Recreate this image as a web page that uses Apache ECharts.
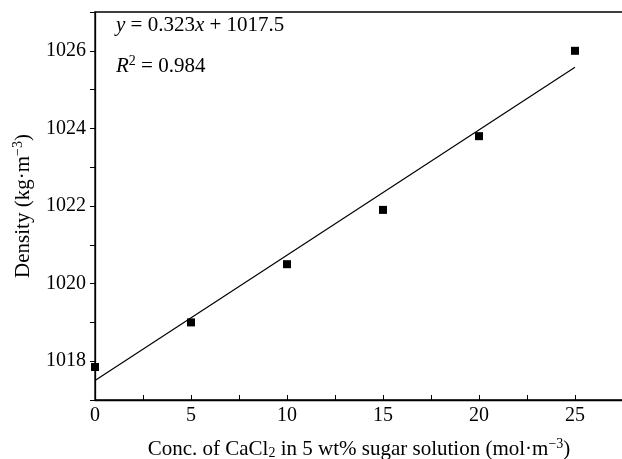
<!DOCTYPE html>
<html>
<head>
<meta charset="utf-8">
<script src="https://cdn.jsdelivr.net/npm/echarts@6/dist/echarts.min.js"></script>
<style>
html,body{margin:0;padding:0;background:#fff;}
#chart{width:622px;height:459px;}
</style>
</head>
<body>
<div id="chart"></div>
<script>
// Data
var concentrations = [0, 5, 10, 15, 20, 25];
var densities = [1017.85, 1019.0, 1020.5, 1021.9, 1023.8, 1026.0];
var fitSlope = 0.323;
var fitIntercept = 1017.5;
var fitRange = [0, 25];
var xTickLabels = [0, 5, 10, 15, 20, 25];
var yTickLabels = [1018, 1020, 1022, 1024, 1026];

var FONT = 'Liberation Serif';

var scatterData = concentrations.map(function (c, i) { return [c, densities[i]]; });
var fitData = fitRange.map(function (x) { return [x, +(fitSlope * x + fitIntercept).toFixed(4)]; });

var chart = echarts.init(document.getElementById('chart'), null, {renderer: 'canvas'});
chart.setOption({
  animation: false,
  backgroundColor: '#fff',
  grid: {left: 95, top: 12, width: 528, bottom: 59, containLabel: false, outerBoundsMode: 'none',
         show: true, borderColor: '#000', borderWidth: 1.3, backgroundColor: 'transparent'},
  xAxis: {
    type: 'value', min: 0, max: 27.5, interval: 2.5,
    axisLine: {lineStyle: {color: '#000', width: 1.3}},
    axisTick: {inside: true, length: 5, lineStyle: {color: '#000', width: 1}},
    splitLine: {show: false},
    axisLabel: {
      margin: 6, color: '#000', fontFamily: FONT, fontSize: 20,
      formatter: function (v) { return xTickLabels.indexOf(v) >= 0 ? String(v) : ''; }
    },
    name: 'Conc. of CaCl{sub|2} in 5 wt% sugar solution (mol·m{sup|−3})',
    nameLocation: 'middle', nameGap: 37,
    nameTextStyle: {
      color: '#000', fontFamily: FONT, fontSize: 21,
      rich: {
        sub: {fontFamily: FONT, fontSize: 14, color: '#000', padding: [9, 0, 0, 0]},
        sup: {fontFamily: FONT, fontSize: 14, color: '#000', padding: [0, 0, 10, 0]}
      }
    }
  },
  yAxis: {
    type: 'value', min: 1017, max: 1027, interval: 1,
    axisLine: {show: true, lineStyle: {color: '#000', width: 1.3}},
    axisTick: {show: true, inside: false, length: 5, lineStyle: {color: '#000', width: 1}},
    splitLine: {show: false},
    axisLabel: {
      margin: 9, color: '#000', fontFamily: FONT, fontSize: 20,
      formatter: function (v) { return yTickLabels.indexOf(v) >= 0 ? String(v) : ''; }
    },
    name: 'Density (kg·m{sup|−3})',
    nameLocation: 'middle', nameGap: 60,
    nameTextStyle: {
      color: '#000', fontFamily: FONT, fontSize: 21,
      rich: {
        sup: {fontFamily: FONT, fontSize: 14, color: '#000', padding: [0, 0, 10, 0]}
      }
    }
  },
  graphic: [
    {
      type: 'text', left: 116, top: 15,
      style: {
        text: '{i|y} = 0.323{i|x} + 1017.5',
        font: '21px "Liberation Serif"', fill: '#000',
        rich: {i: {fontFamily: FONT, fontSize: 21, fontStyle: 'italic', fill: '#000'}}
      }
    },
    {
      type: 'text', left: 116, top: 54,
      style: {
        text: '{i|R}{s|2} = 0.984',
        font: '21px "Liberation Serif"', fill: '#000',
        rich: {
          i: {fontFamily: FONT, fontSize: 21, fontStyle: 'italic', fill: '#000'},
          s: {fontFamily: FONT, fontSize: 14, fill: '#000', padding: [0, 0, 11, 0]}
        }
      }
    }
  ],
  series: [
    {
      type: 'line', data: fitData, symbol: 'none',
      lineStyle: {color: '#000', width: 1.2}, silent: true, z: 2
    },
    {
      type: 'scatter', data: scatterData, symbol: 'rect', symbolSize: 8,
      itemStyle: {color: '#000', opacity: 1}, clip: true, z: 3
    }
  ]
});
</script>
</body>
</html>
